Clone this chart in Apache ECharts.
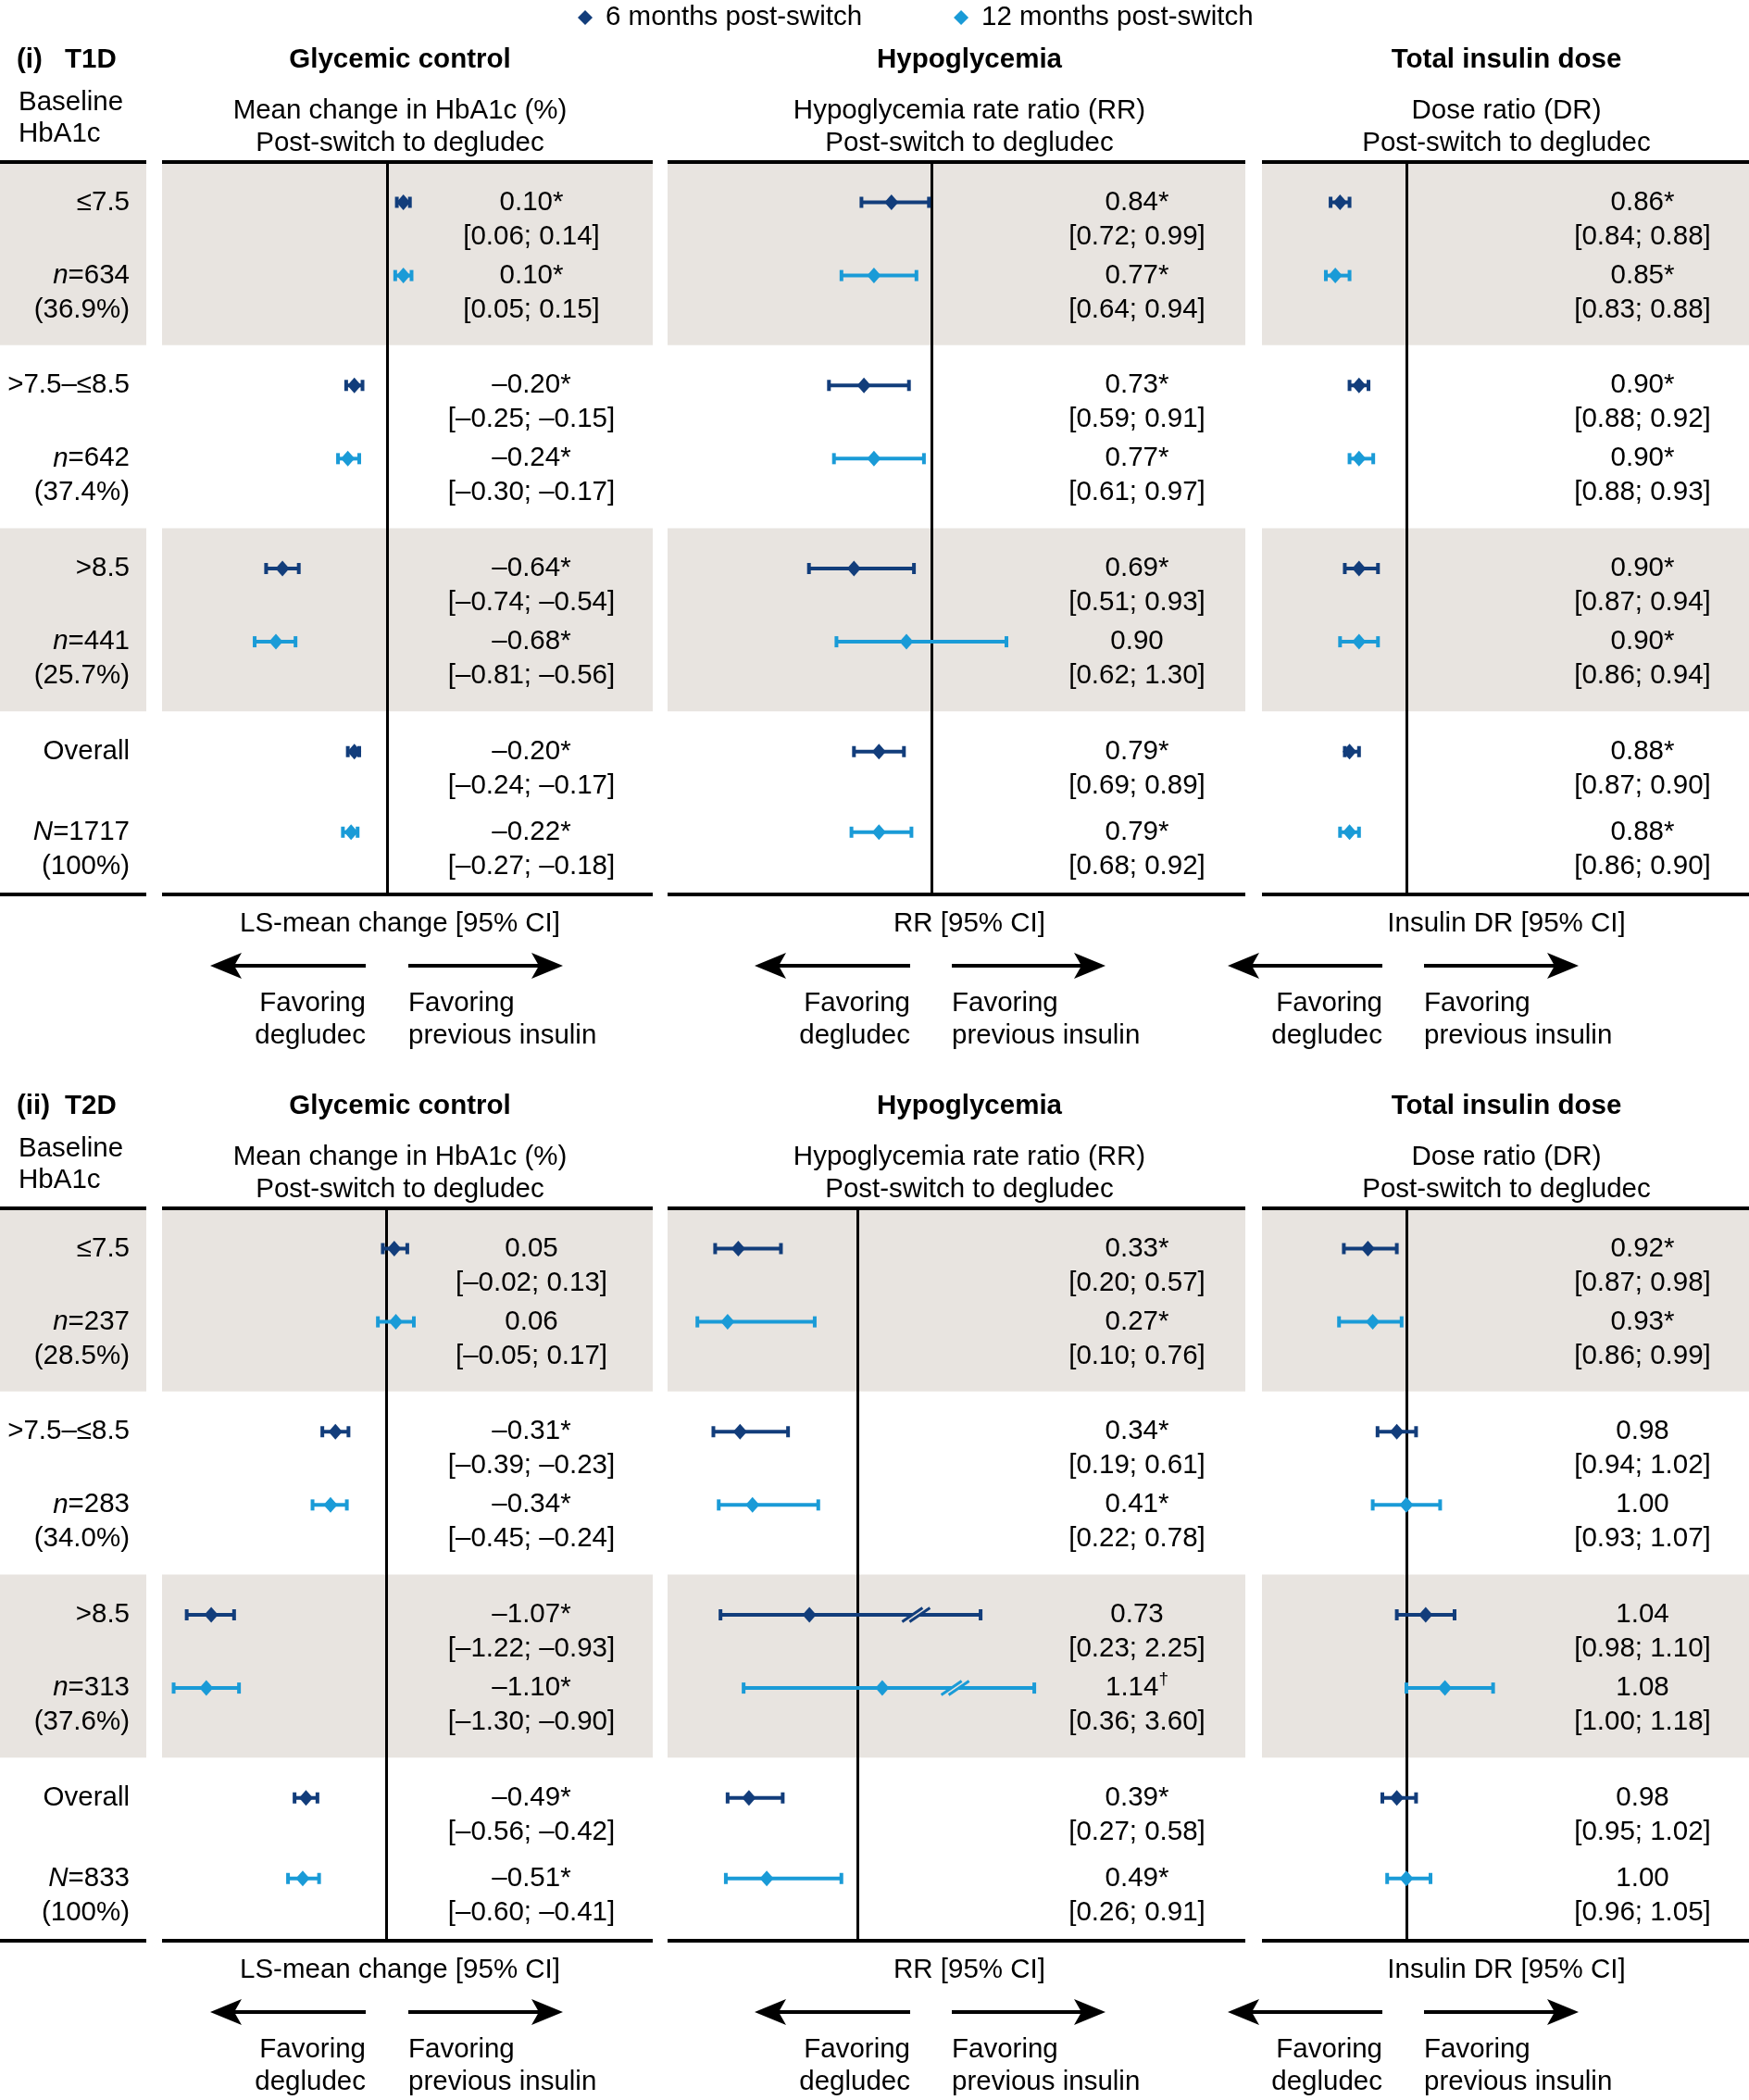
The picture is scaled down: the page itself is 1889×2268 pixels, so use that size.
<!DOCTYPE html>
<html><head><meta charset="utf-8">
<script src="https://cdn.jsdelivr.net/npm/echarts@6/dist/echarts.min.js"></script>
<style>html,body{margin:0;padding:0;background:#fff}#c{width:1889px;height:2268px}</style>
</head><body><div id="c"></div><script>
// ---------------- data ----------------
const legendNames = ['6 months post-switch', '12 months post-switch'];
const sectionTitles = [['(i)', 'T1D'], ['(ii)', 'T2D']];
const panelTitles = ['Glycemic control', 'Hypoglycemia', 'Total insulin dose'];
const panelSubtitles = [['Mean change in HbA1c (%)', 'Post-switch to degludec'],
                        ['Hypoglycemia rate ratio (RR)', 'Post-switch to degludec'],
                        ['Dose ratio (DR)', 'Post-switch to degludec']];
const axisTitles = ['LS-mean change [95% CI]', 'RR [95% CI]', 'Insulin DR [95% CI]'];
const favorLeft = ['Favoring', 'degludec'];
const favorRight = ['Favoring', 'previous insulin'];
const baselineHeader = ['Baseline', 'HbA1c'];
const baselineGroups = ['≤7.5', '>7.5–≤8.5', '>8.5', 'Overall'];
const nSymbol = ['n', 'n', 'n', 'N'];
const t1dN = [634, 642, 441, 1717];
const t1dPct = ['36.9%', '37.4%', '25.7%', '100%'];
const t2dN = [237, 283, 313, 833];
const t2dPct = ['28.5%', '34.0%', '37.6%', '100%'];
const refValues = [0, 1, 1];

// rows: [estimate, lower 95% CI, upper 95% CI, significance mark]
const t1dHbA1c6  = [[0.10, 0.06, 0.14, '*'], [-0.20, -0.25, -0.15, '*'], [-0.64, -0.74, -0.54, '*'], [-0.20, -0.24, -0.17, '*']];
const t1dHbA1c12 = [[0.10, 0.05, 0.15, '*'], [-0.24, -0.30, -0.17, '*'], [-0.68, -0.81, -0.56, '*'], [-0.22, -0.27, -0.18, '*']];
const t1dHypo6   = [[0.84, 0.72, 0.99, '*'], [0.73, 0.59, 0.91, '*'], [0.69, 0.51, 0.93, '*'], [0.79, 0.69, 0.89, '*']];
const t1dHypo12  = [[0.77, 0.64, 0.94, '*'], [0.77, 0.61, 0.97, '*'], [0.90, 0.62, 1.30, ''], [0.79, 0.68, 0.92, '*']];
const t1dDose6   = [[0.86, 0.84, 0.88, '*'], [0.90, 0.88, 0.92, '*'], [0.90, 0.87, 0.94, '*'], [0.88, 0.87, 0.90, '*']];
const t1dDose12  = [[0.85, 0.83, 0.88, '*'], [0.90, 0.88, 0.93, '*'], [0.90, 0.86, 0.94, '*'], [0.88, 0.86, 0.90, '*']];

const t2dHbA1c6  = [[0.05, -0.02, 0.13, ''], [-0.31, -0.39, -0.23, '*'], [-1.07, -1.22, -0.93, '*'], [-0.49, -0.56, -0.42, '*']];
const t2dHbA1c12 = [[0.06, -0.05, 0.17, ''], [-0.34, -0.45, -0.24, '*'], [-1.10, -1.30, -0.90, '*'], [-0.51, -0.60, -0.41, '*']];
const t2dHypo6   = [[0.33, 0.20, 0.57, '*'], [0.34, 0.19, 0.61, '*'], [0.73, 0.23, 2.25, ''], [0.39, 0.27, 0.58, '*']];
const t2dHypo12  = [[0.27, 0.10, 0.76, '*'], [0.41, 0.22, 0.78, '*'], [1.14, 0.36, 3.60, '†'], [0.49, 0.26, 0.91, '*']];
const t2dDose6   = [[0.92, 0.87, 0.98, '*'], [0.98, 0.94, 1.02, ''], [1.04, 0.98, 1.10, ''], [0.98, 0.95, 1.02, '']];
const t2dDose12  = [[0.93, 0.86, 0.99, '*'], [1.00, 0.93, 1.07, ''], [1.08, 1.00, 1.18, ''], [1.00, 0.96, 1.05, '']];
// axis-break marks (“//”) drawn on the long T2D hypoglycemia whiskers
const t2dHypoBreak6  = [null, null, 1.33, null];
const t2dHypoBreak12 = [null, null, 1.55, null];

// ---------------- layout / style ----------------
const FONT = '"Liberation Sans", Arial, Helvetica, sans-serif';
const FS = 29.5, LH = 37;
const COLORS = ['#123d7b', '#1a9bd7'];
const BAND = '#e8e4e0';
const SEC_TOP = [175, 1305], SEC_DY = 1130, ROWS_H = 791;
const panelsLayout = [
  {left: 175, width: 530, textMargin: 131, titleX: 432},
  {left: 721, width: 624, textMargin: 117, titleX: 1047},
  {left: 1363, width: 526, textMargin: 115, titleX: 1627}
];
const xExtents = [
  [[-1.3768, 1.626], [-0.0556, 2.2556], [0.6953, 1.7227]],
  [[-1.371, 1.632], [-0.0677, 4.787], [0.7, 1.7115]]
];
const axisBreaks = [[null, null, null],
  [null, [{start: 1.6, end: 2.2, gap: 0.043}, {start: 2.4, end: 3.5, gap: 0.052}], null]];
const arrowsX = [[227, 395, 441, 608], [815, 983, 1028, 1194], [1326, 1493, 1538, 1705]];

const sections = [
  {n: t1dN, pct: t1dPct, panels: [[t1dHbA1c6, t1dHbA1c12], [t1dHypo6, t1dHypo12], [t1dDose6, t1dDose12]], marks: null},
  {n: t2dN, pct: t2dPct, panels: [[t2dHbA1c6, t2dHbA1c12], [t2dHypo6, t2dHypo12], [t2dDose6, t2dDose12]],
   marks: {panel: 1, data: [t2dHypoBreak6, t2dHypoBreak12]}}
];

// row position inside a section: 5 units per baseline group
function rowY(b, p) { return 5 * b + 1.1 + 2 * p + (b === 3 && p === 1 ? 0.2 : 0); }
function key(y) { return Math.round(y * 10); }
function fmt(v) { return (v < 0 ? '–' : '') + Math.abs(v).toFixed(2); }
function sigTok(s) { return s === '†' ? '{d|†}' : s; }

const grid = [], xAxis = [], yAxis = [], series = [];
const richStyles = {
  i: {fontStyle: 'italic', fontFamily: FONT, fontSize: FS, color: '#000', lineHeight: LH},
  d: {fontFamily: FONT, fontSize: 19, color: '#000', lineHeight: LH, verticalAlign: 'top', padding: [0, 0, 10, 0]}
};

function addGrid(left, width, top, xmin, xmax, breaks, labelMap, margin, align, ref) {
  const gi = grid.length;
  grid.push({left: left, top: top, width: width, height: ROWS_H});
  const xa = {gridIndex: gi, type: 'value', min: xmin, max: xmax, show: false};
  if (breaks) {
    xa.breaks = breaks;
    xa.breakArea = {show: false, zigzagAmplitude: 0, itemStyle: {color: 'rgba(0,0,0,0)', borderColor: 'rgba(0,0,0,0)', borderWidth: 0}};
  }
  xAxis.push(xa);
  yAxis.push({
    gridIndex: gi, type: 'value', min: 0, max: 20, interval: 0.1, inverse: true, position: 'right', z: 30,
    axisLine: {show: false}, axisTick: {show: false}, splitLine: {show: false},
    axisLabel: {show: true, inside: true, margin: margin, align: align, fontFamily: FONT, fontSize: FS,
      color: '#000', lineHeight: LH, showMinLabel: true, showMaxLabel: true,
      formatter: function (v) { return labelMap[key(v)] || ''; }, rich: richStyles}
  });
  series.push({type: 'line', xAxisIndex: gi, yAxisIndex: gi, data: [], z: 0, silent: true,
    markArea: {silent: true, z: 1, itemStyle: {color: BAND}, label: {show: false},
      data: [[{yAxis: 0}, {yAxis: 5}], [{yAxis: 10}, {yAxis: 15}]]}});
  const lines = [{yAxis: 0}, {yAxis: 20}];
  if (ref !== null) lines.push({xAxis: ref, lineStyle: {width: 3}});
  series.push({type: 'line', xAxisIndex: gi, yAxisIndex: gi, data: [], z: 0, silent: true,
    markLine: {silent: true, z: 5, symbol: ['none', 'none'], label: {show: false}, animation: false,
      lineStyle: {color: '#000', width: 4, type: 'solid'}, data: lines}});
  return gi;
}

function whiskerRenderer(color) {
  return function (params, api) {
    const y = api.value(2);
    const a = api.coord([api.value(0), y]);
    const c = api.coord([api.value(1), y]);
    const h = 6;
    const st = {stroke: color, lineWidth: 4};
    return {type: 'group', children: [
      {type: 'line', shape: {x1: a[0], y1: a[1], x2: c[0], y2: c[1]}, style: st},
      {type: 'line', shape: {x1: a[0], y1: a[1] - h, x2: a[0], y2: a[1] + h}, style: st},
      {type: 'line', shape: {x1: c[0], y1: c[1] - h, x2: c[0], y2: c[1] + h}, style: st}
    ]};
  };
}
function breakRenderer(color) {
  return function (params, api) {
    const p = api.coord([api.value(0), api.value(1)]);
    const cx = p[0], cy = p[1], dx = 11, dy = 7.5, o = 4;
    const st = {stroke: color, lineWidth: 3};
    return {type: 'group', children: [
      {type: 'polygon', shape: {points: [[cx - o - dx, cy + dy], [cx - o + dx, cy - dy], [cx + o + dx, cy - dy], [cx + o - dx, cy + dy]]}, style: {fill: BAND}},
      {type: 'line', shape: {x1: cx - o - dx, y1: cy + dy, x2: cx - o + dx, y2: cy - dy}, style: st},
      {type: 'line', shape: {x1: cx + o - dx, y1: cy + dy, x2: cx + o + dx, y2: cy - dy}, style: st}
    ]};
  };
}

sections.forEach(function (sec, s) {
  const top = SEC_TOP[s];
  // left label column
  const leftMap = {};
  baselineGroups.forEach(function (g, b) {
    leftMap[key(rowY(b, 0))] = g;
    leftMap[key(rowY(b, 1))] = ' \n{i|' + nSymbol[b] + '}=' + sec.n[b] + '\n(' + sec.pct[b] + ')';
  });
  addGrid(0, 158, top, 0, 1, null, leftMap, 18, 'right', null);
  // panels
  sec.panels.forEach(function (pair, pi) {
    const L = panelsLayout[pi];
    const map = {};
    pair.forEach(function (rows, p) {
      rows.forEach(function (r, b) {
        map[key(rowY(b, p))] = ' \n' + fmt(r[0]) + sigTok(r[3]) + '\n[' + fmt(r[1]) + '; ' + fmt(r[2]) + ']';
      });
    });
    const ext = xExtents[s][pi];
    const gi = addGrid(L.left, L.width, top, ext[0], ext[1], axisBreaks[s][pi], map, L.textMargin, 'center', refValues[pi]);
    pair.forEach(function (rows, p) {
      series.push({type: 'custom', xAxisIndex: gi, yAxisIndex: gi, z: 9, silent: true,
        encode: {x: [0, 1], y: 2},
        data: rows.map(function (r, b) { return [r[1], r[2], rowY(b, p)]; }),
        renderItem: whiskerRenderer(COLORS[p])});
      series.push({type: 'scatter', name: legendNames[p], xAxisIndex: gi, yAxisIndex: gi, z: 10, silent: true,
        symbol: 'diamond', symbolSize: [15, 17], itemStyle: {color: COLORS[p], opacity: 1},
        data: rows.map(function (r, b) { return [r[0], rowY(b, p)]; })});
    });
    if (sec.marks && sec.marks.panel === pi) {
      sec.marks.data.forEach(function (arr, p) {
        const d = [];
        arr.forEach(function (m, b) { if (m !== null) d.push([m, rowY(b, p)]); });
        series.push({type: 'custom', xAxisIndex: gi, yAxisIndex: gi, z: 11, silent: true,
          encode: {x: 0, y: 1}, data: d, renderItem: breakRenderer(COLORS[p])});
      });
    }
  });
});

// ---------------- decorations (texts, arrows) ----------------
const G = [];
function txt(x, y, text, align, bold) {
  G.push({type: 'text', x: x, y: y, silent: true, style: {text: text, fill: '#000',
    font: (bold ? 'bold ' : '') + FS + 'px ' + FONT,
    textAlign: align, textVerticalAlign: 'middle', align: align, verticalAlign: 'middle'}});
}
function arrow(tip, end, y, dir) {
  // dir -1: pointing left, +1: pointing right
  G.push({type: 'line', silent: true, shape: {x1: tip - dir * 20, y1: y, x2: end, y2: y}, style: {stroke: '#000', lineWidth: 4}});
  G.push({type: 'polygon', silent: true, shape: {points: [[tip, y], [tip - dir * 34, y - 14], [tip - dir * 26, y], [tip - dir * 34, y + 14]]}, style: {fill: '#000'}});
}
[0, 1].forEach(function (s) {
  const dy = SEC_DY * s;
  txt(18, 65 + dy, sectionTitles[s][0], 'left', true);
  txt(70, 65 + dy, sectionTitles[s][1], 'left', true);
  txt(20, 111 + dy, baselineHeader[0], 'left', false);
  txt(20, 145 + dy, baselineHeader[1], 'left', false);
  panelsLayout.forEach(function (L, pi) {
    txt(L.titleX, 65 + dy, panelTitles[pi], 'center', true);
    txt(L.titleX, 120 + dy, panelSubtitles[pi][0], 'center', false);
    txt(L.titleX, 155 + dy, panelSubtitles[pi][1], 'center', false);
    txt(L.titleX, 998 + dy, axisTitles[pi], 'center', false);
    const a = arrowsX[pi];
    arrow(a[0], a[1], 1043 + dy, -1);
    arrow(a[3], a[2], 1043 + dy, 1);
    txt(a[1], 1084 + dy, favorLeft[0], 'right', false);
    txt(a[1], 1119 + dy, favorLeft[1], 'right', false);
    txt(a[2], 1084 + dy, favorRight[0], 'left', false);
    txt(a[2], 1119 + dy, favorRight[1], 'left', false);
  });
});

const option = {
  animation: false,
  backgroundColor: '#fff',
  legend: {data: legendNames, left: 624, top: 4, padding: 0, icon: 'diamond', itemWidth: 16, itemHeight: 16,
    itemGap: 99, selectedMode: false,
    textStyle: {fontFamily: FONT, fontSize: FS, color: '#000', padding: [0, 0, 0, 9]}},
  grid: grid, xAxis: xAxis, yAxis: yAxis, series: series,
  graphic: {elements: G}
};
const chart = echarts.init(document.getElementById('c'), null, {renderer: 'canvas', width: 1889, height: 2268});
chart.setOption(option);
</script></body></html>
